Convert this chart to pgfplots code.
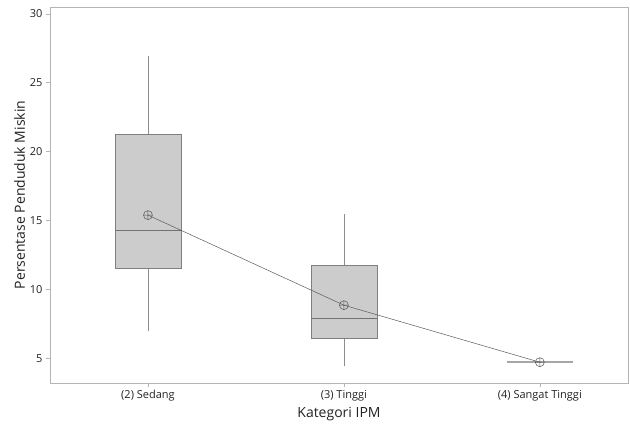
\documentclass[border=0pt]{standalone}
\usepackage{fontspec}
\setmainfont{Open Sans}
\usepackage{pgfplots}
\pgfplotsset{compat=1.18}
\definecolor{boxfill}{HTML}{CCCCCC}
\definecolor{boxline}{HTML}{7F7F7F}
\definecolor{whisk}{HTML}{8C8C8C}
\definecolor{flat}{HTML}{A6A6A6}
\definecolor{frame}{HTML}{B4B4B4}
\definecolor{meanline}{HTML}{5A5A5A}
\definecolor{txt}{HTML}{222222}
\begin{document}
\begin{tikzpicture}
\path[use as bounding box] (-50pt,-45pt) rectangle (580pt,383pt);
\begin{axis}[
  at={(0,0)}, anchor=south west,
  scale only axis, width=578pt, height=376pt,
  xmin=0.5, xmax=3.45, ymin=3.2, ymax=30.5,
  xtick={1,2,3}, xticklabels={(2) Sedang,(3) Tinggi,(4) Sangat Tinggi},
  ytick={5,10,15,20,25,30},
  /pgf/number format/assume math mode=true,
  tick label style={font=\fontsize{11}{13}\selectfont, text=txt},
  label style={font=\fontsize{14}{16}\selectfont, text=txt},
  xlabel={Kategori IPM}, ylabel={Persentase Penduduk Miskin},
  xlabel style={yshift=1pt},
  ylabel style={yshift=-2pt},
  axis line style={frame},
  tick style={frame, line width=0.6pt},
  tick align=outside, major tick length=4pt,
  xtick pos=bottom, ytick pos=left,
]
% box 1: (2) Sedang
\addplot[whisk, line width=0.7pt] coordinates {(1,21.28) (1,26.95)};
\addplot[whisk, line width=0.7pt] coordinates {(1,6.96) (1,11.54)};
\addplot[draw=boxline, fill=boxfill, line width=0.7pt]
  coordinates {(0.8315,11.54) (1.1685,11.54) (1.1685,21.28) (0.8315,21.28)} -- cycle;
\addplot[boxline!90!black, line width=0.7pt] coordinates {(0.8315,14.3) (1.1685,14.3)};
% box 2: (3) Tinggi
\addplot[whisk, line width=0.7pt] coordinates {(2,11.76) (2,15.47)};
\addplot[whisk, line width=0.7pt] coordinates {(2,4.42) (2,6.45)};
\addplot[draw=boxline, fill=boxfill, line width=0.7pt]
  coordinates {(1.8315,6.45) (2.1685,6.45) (2.1685,11.76) (1.8315,11.76)} -- cycle;
\addplot[boxline!90!black, line width=0.7pt] coordinates {(1.8315,7.91) (2.1685,7.91)};
% box 3: (4) Sangat Tinggi (single value)
\addplot[flat, line width=1.6pt] coordinates {(2.8315,4.71) (3.1685,4.71)};
% means
\addplot[meanline, line width=0.5pt, mark=oplus, mark size=4.5pt,
  mark options={fill=none, draw=meanline, line width=0.5pt}]
  coordinates {(1,15.39) (2,8.85) (3,4.71)};
\end{axis}
\end{tikzpicture}
\end{document}
